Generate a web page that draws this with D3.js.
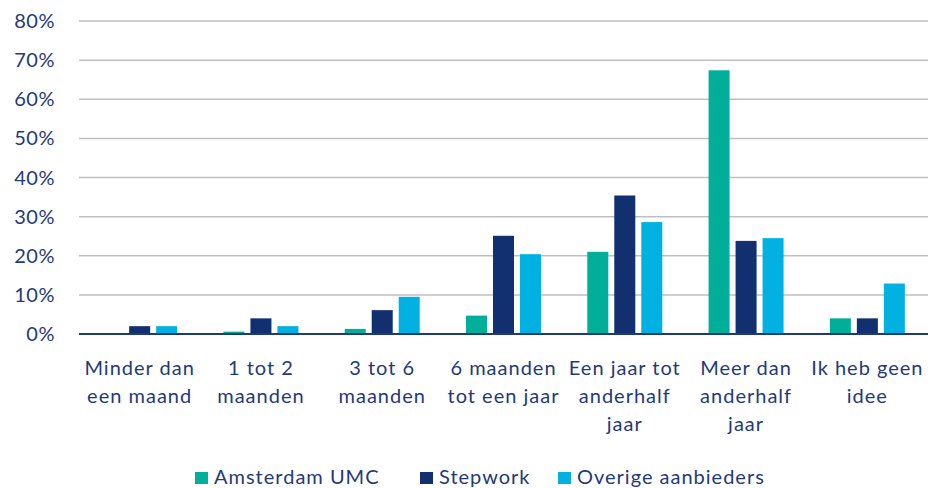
<!DOCTYPE html>
<html>
<head>
<meta charset="utf-8">
<script src="https://cdn.jsdelivr.net/npm/d3@7"></script>
<style>
  html, body { margin: 0; padding: 0; background: #fff; }
  svg text { font-family: Lato, 'Noto Sans', sans-serif; fill: #1f3a7a; }
</style>
</head>
<body>
<div id="chart"></div>
<script>
// categories (multi-line labels)
const categories = [
  ['Minder dan', 'een maand'],
  ['1 tot 2', 'maanden'],
  ['3 tot 6', 'maanden'],
  ['6 maanden', 'tot een jaar'],
  ['Een jaar tot', 'anderhalf', 'jaar'],
  ['Meer dan', 'anderhalf', 'jaar'],
  ['Ik heb geen', 'idee']
]
const seriesNames = ['Amsterdam UMC', 'Stepwork', 'Overige aanbieders']
const seriesColors = ['#00ae9a', '#122f70', '#00b1e1']
const amsterdam = [0, 0.6, 1.3, 4.7, 21.0, 67.4, 4.0]
const stepwork = [2.0, 4.0, 6.1, 25.1, 35.4, 23.8, 4.0]
const overige = [2.0, 2.0, 9.5, 20.4, 28.6, 24.5, 12.9]
const yTicks = [0, 10, 20, 30, 40, 50, 60, 70, 80]

const values = [amsterdam, stepwork, overige]
const width = 930
const height = 488
const margin = {top: 21, right: 2, bottom: 154, left: 79}

const svg = d3.select('#chart').append('svg')
  .attr('width', width)
  .attr('height', height)

const y = d3.scaleLinear()
  .domain([0, 80])
  .range([height - margin.bottom, margin.top])

const x0 = d3.scaleBand()
  .domain(d3.range(categories.length))
  .range([margin.left, width - margin.right])
  .padding(0)

const groupWidth = 75
const x1 = d3.scaleBand()
  .domain(d3.range(seriesNames.length))
  .range([0, groupWidth])
  .paddingInner(0.222)
  .paddingOuter(0)

// gridlines
svg.append('g')
  .selectAll('line')
  .data(yTicks.filter(d => d > 0))
  .enter()
  .append('line')
  .attr('x1', margin.left)
  .attr('x2', width - margin.right)
  .attr('y1', d => y(d))
  .attr('y2', d => y(d))
  .style('stroke', '#bfbfbf')
  .style('stroke-width', 1.5)

// y tick labels
svg.append('g')
  .selectAll('text')
  .data(yTicks)
  .enter()
  .append('text')
  .attr('x', 55)
  .attr('y', d => y(d))
  .attr('dy', '0.35em')
  .attr('text-anchor', 'end')
  .style('font-size', '20px')
  .style('letter-spacing', '0.5px')
  .text(d => d + '%')

// bars
const groups = svg.append('g')
  .selectAll('g')
  .data(categories)
  .enter()
  .append('g')
  .attr('transform', (d, i) =>
    `translate(${x0(i) + (x0.bandwidth() - groupWidth) / 2},0)`)

groups.selectAll('rect')
  .data((d, i) => values.map((s, j) => ({j: j, v: s[i]})))
  .enter()
  .append('rect')
  .attr('x', d => x1(d.j))
  .attr('width', x1.bandwidth())
  .attr('y', d => y(d.v))
  .attr('height', d => y(0) - y(d.v))
  .style('fill', d => seriesColors[d.j])

// baseline
svg.append('line')
  .attr('x1', margin.left)
  .attr('x2', width - margin.right)
  .attr('y1', y(0))
  .attr('y2', y(0))
  .style('stroke', '#1f3a7a')
  .style('stroke-width', 2)

// category labels
const catLabels = svg.append('g')
  .selectAll('text')
  .data(categories)
  .enter()
  .append('text')
  .attr('x', (d, i) => x0(i) + x0.bandwidth() / 2)
  .attr('y', 375)
  .attr('text-anchor', 'middle')
  .style('font-size', '20px')
  .style('letter-spacing', '1px')

catLabels.selectAll('tspan')
  .data(d => d)
  .enter()
  .append('tspan')
  .attr('x', function () { return d3.select(this.parentNode).attr('x') })
  .attr('dy', (d, i) => i === 0 ? 0 : 28)
  .text(d => d)

// legend
const legendX = [195, 420, 558]
const legend = svg.append('g')
  .selectAll('g')
  .data(seriesNames)
  .enter()
  .append('g')
  .attr('transform', (d, i) => `translate(${legendX[i]},472)`)

legend.append('rect')
  .attr('width', 13)
  .attr('height', 12)
  .style('fill', (d, i) => seriesColors[i])

legend.append('text')
  .attr('x', 19)
  .attr('y', 12)
  .style('font-size', '20px')
  .style('letter-spacing', '1px')
  .text(d => d)
</script>
</body>
</html>
